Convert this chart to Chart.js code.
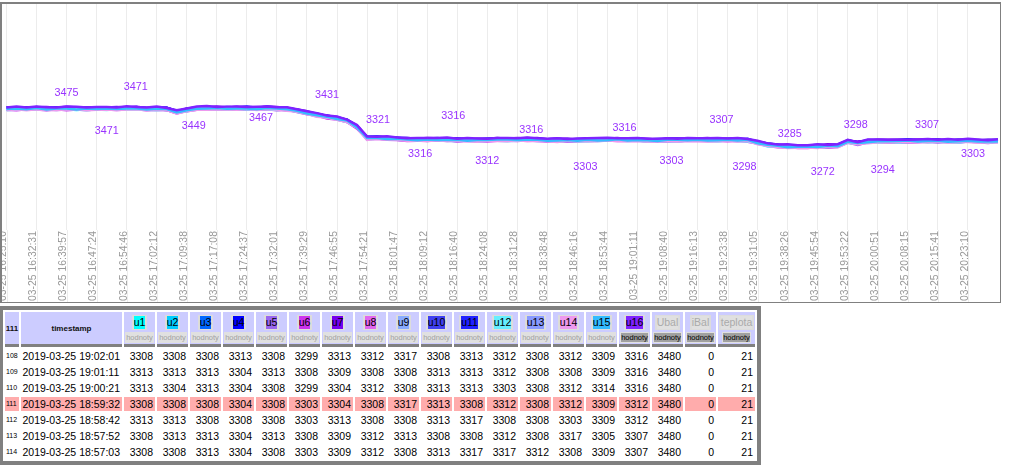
<!DOCTYPE html>
<html><head><meta charset="utf-8">
<script src="https://cdn.jsdelivr.net/npm/chart.js@4.4.1/dist/chart.umd.min.js"></script>
<style>
html,body{margin:0;padding:0;background:#fff;}
body{font-family:"Liberation Sans",Arial,sans-serif;width:1009px;height:476px;overflow:hidden;position:relative;}
#chartbox{position:absolute;left:0;top:2px;width:998px;height:298px;border-style:solid;border-color:#808080;border-width:2px 1px 1px 2px;}
#chartbox canvas{display:block;}
#tbl{position:absolute;left:-1px;top:306px;width:762px;border:4px solid #808080;border-collapse:separate;border-spacing:2px;table-layout:fixed;}
#tbl th,#tbl td{padding:0;overflow:hidden;white-space:nowrap;box-sizing:border-box;}
#tbl th{background:#ccccff;border-bottom:3px solid #808080;height:35.4px;vertical-align:top;text-align:center;font-weight:normal;}
#tbl th.n{font-weight:bold;font-size:8px;vertical-align:middle;color:#111;}
#tbl th.ts{font-weight:bold;font-size:8px;vertical-align:middle;color:#111;}
.nm{display:inline-block;border-style:solid;border-color:#dcdcdc;border-width:1px 2px;line-height:13px;font-size:10.5px;color:#000;}
.nm span{display:inline-block;}
.nm.off span{background:#e0e0e0;color:#aaa;}
.hb{display:block;width:fit-content;margin:2px auto 0;background:#e0e0e0;padding:1px 1px;font-size:7.5px;line-height:9px;color:#a0a0a0;}
.hb.on span{background:#a0a0a0;color:#000;}
#tbl td{height:14px;font-size:10.5px;line-height:14px;text-align:right;padding-right:2px;color:#000;}
#tbl td.rn{font-size:7px;text-align:left;padding:0 0 0 1px;}
#tbl td.tm{text-align:left;padding:0 0 0 1.5px;}
#tbl tr.hl td{background:#ffacac;}
</style></head>
<body>
<div id="chartbox"><canvas id="c"></canvas></div>
<table id="tbl"></table>
<script>
// ---------- chart data ----------
const tickLabels = ['03-25 16:25:10','03-25 16:32:31','03-25 16:39:57','03-25 16:47:24','03-25 16:54:46','03-25 17:02:12','03-25 17:09:38','03-25 17:17:08','03-25 17:24:37','03-25 17:32:01','03-25 17:39:29','03-25 17:46:55','03-25 17:54:21','03-25 18:01:47','03-25 18:09:12','03-25 18:16:40','03-25 18:24:08','03-25 18:31:28','03-25 18:38:48','03-25 18:46:16','03-25 18:53:44','03-25 19:01:11','03-25 19:08:40','03-25 19:16:13','03-25 19:23:38','03-25 19:31:05','03-25 19:38:26','03-25 19:45:54','03-25 19:53:22','03-25 20:00:51','03-25 20:08:15','03-25 20:15:41','03-25 20:23:10'];

const seriesNames = ['u1','u2','u3','u4','u5','u6','u7','u8','u9','u10','u11','u12','u13','u14','u15','u16'];
const seriesColors = ['#00ffff','#00ccff','#0066ff','#0000ff','#9966ee','#cc33ee','#7700ee','#e066ee','#88aaff','#3f3ff0','#2222ff','#66eeff','#8899ff','#ee99ee','#33bbff','#7f22ff'];

const u1 = [3463,3466,3462,3468,3461,3465,3465,3461,3465,3463, 3464,3462,3468,3464,3462,3466,3459,3448,3456,3467, 3464,3465,3467,3464,3469,3463,3468,3465,3459,3455, 3445,3430,3422,3415,3400,3371,3315,3314,3314,3309, 3306,3309,3303,3308,3306,3302,3306,3305,3304,3306, 3305,3309,3305,3308,3302,3304,3304,3300,3307,3303, 3306,3304,3308,3304,3303,3305,3301,3306,3305,3308, 3303,3304,3306,3303,3306,3289,3281,3276,3269,3271, 3274,3271,3273,3276,3295,3288,3298,3296,3300,3297, 3299,3302,3298,3300,3298,3296,3302,3300,3297,3299];
const u2 = [3467,3465,3469,3468,3465,3469,3465,3468,3466,3469, 3464,3467,3469,3466,3469,3465,3467,3450,3456,3469, 3472,3467,3469,3470,3467,3468,3470,3466,3466,3456, 3444,3437,3423,3417,3405,3371,3319,3320,3315,3313, 3310,3311,3307,3313,3307,3309,3307,3304,3310,3308, 3309,3308,3312,3308,3306,3308,3304,3307,3308,3309, 3306,3309,3309,3306,3310,3304,3309,3308,3305,3310, 3311,3306,3308,3309,3304,3294,3283,3277,3276,3272, 3273,3278,3274,3278,3300,3288,3302,3302,3301,3301, 3303,3304,3302,3305,3299,3303,3303,3299,3303,3301];
const u3 = [3466,3469,3469,3469,3471,3467,3472,3469,3465,3470, 3471,3468,3470,3471,3466,3469,3468,3450,3462,3469, 3470,3473,3469,3471,3471,3467,3473,3471,3466,3459, 3447,3438,3426,3421,3405,3377,3319,3318,3320,3314, 3313,3309,3313,3312,3310,3312,3306,3310,3310,3313, 3308,3312,3312,3309,3312,3306,3311,3308,3307,3310, 3313,3310,3310,3311,3307,3308,3310,3308,3311,3310, 3309,3312,3308,3310,3308,3293,3286,3282,3276,3275, 3276,3279,3277,3282,3300,3294,3302,3300,3306,3302, 3306,3302,3308,3304,3302,3306,3302,3305,3303,3306];
const u4 = [3474,3471,3471,3475,3469,3472,3474,3470,3472,3471, 3470,3475,3471,3473,3471,3469,3472,3456,3463,3473, 3474,3475,3473,3476,3472,3474,3474,3470,3472,3461, 3451,3437,3433,3421,3409,3381,3319,3325,3321,3320, 3313,3314,3314,3314,3317,3311,3314,3312,3310,3315, 3316,3314,3314,3315,3310,3311,3313,3309,3314,3311, 3312,3317,3311,3313,3312,3308,3314,3314,3312,3314, 3313,3314,3312,3315,3309,3300,3287,3281,3282,3277, 3280,3278,3284,3282,3304,3298,3302,3307,3307,3308, 3306,3307,3309,3306,3309,3305,3310,3307,3303,3308];
const u5 = [3466,3471,3465,3470,3467,3465,3471,3469,3466,3468, 3467,3470,3468,3471,3465,3469,3466,3448,3462,3468, 3471,3467,3473,3469,3469,3471,3467,3470,3466,3460, 3444,3435,3427,3416,3409,3373,3320,3320,3314,3315, 3314,3309,3309,3313,3308,3309,3309,3306,3310,3309, 3308,3314,3308,3310,3308,3304,3310,3308,3308,3308, 3309,3312,3308,3311,3306,3308,3308,3306,3311,3309, 3310,3306,3312,3308,3306,3297,3280,3281,3276,3276, 3273,3276,3278,3277,3304,3290,3303,3302,3300,3303, 3307,3302,3304,3305,3300,3303,3305,3301,3303,3302];
const u6 = [3462,3460,3464,3463,3460,3464,3460,3463,3461,3464, 3464,3461,3463,3464,3459,3462,3461,3443,3455,3462, 3464,3465,3463,3466,3462,3464,3464,3460,3462,3451, 3439,3432,3418,3412,3400,3366,3314,3315,3310,3308, 3303,3304,3304,3304,3307,3301,3304,3302,3300,3305, 3304,3303,3307,3303,3301,3303,3299,3302,3303,3304, 3306,3303,3303,3304,3300,3301,3303,3301,3304,3303, 3303,3304,3302,3305,3299,3290,3277,3271,3272,3267, 3268,3273,3269,3273,3295,3283,3297,3297,3296,3296, 3296,3297,3299,3296,3299,3295,3300,3297,3293,3298];
const u7 = [3471,3474,3474,3474,3476,3472,3477,3474,3470,3475, 3473,3476,3474,3477,3471,3475,3472,3454,3468,3474, 3475,3478,3474,3476,3476,3472,3478,3476,3471,3464, 3455,3440,3432,3425,3410,3381,3325,3324,3324,3319, 3318,3314,3318,3317,3315,3317,3311,3315,3315,3318, 3315,3319,3315,3318,3312,3314,3314,3310,3317,3313, 3314,3319,3313,3315,3314,3310,3316,3316,3314,3316, 3318,3313,3315,3316,3311,3301,3290,3284,3283,3279, 3282,3280,3286,3284,3306,3300,3304,3309,3309,3310, 3310,3311,3309,3312,3306,3310,3310,3306,3310,3308];
const u8 = [3467,3464,3464,3468,3462,3465,3467,3463,3465,3464, 3465,3463,3469,3465,3463,3467,3460,3449,3457,3468, 3465,3466,3468,3465,3470,3464,3469,3466,3460,3456, 3443,3434,3422,3417,3401,3373,3315,3314,3316,3310, 3307,3310,3304,3309,3307,3303,3307,3306,3305,3307, 3309,3307,3307,3308,3303,3304,3306,3302,3307,3304, 3307,3305,3309,3305,3304,3306,3302,3307,3306,3309, 3304,3305,3307,3304,3307,3290,3282,3277,3270,3272, 3272,3275,3273,3278,3296,3290,3298,3296,3302,3298, 3300,3303,3299,3301,3299,3297,3303,3301,3298,3300];
const u9 = [3468,3473,3467,3472,3469,3467,3473,3471,3468,3470, 3467,3470,3472,3469,3472,3468,3470,3453,3459,3472, 3473,3469,3475,3471,3471,3473,3469,3472,3468,3462, 3451,3436,3428,3421,3406,3377,3321,3320,3320,3315, 3313,3314,3310,3316,3310,3312,3310,3307,3313,3311, 3310,3316,3310,3312,3310,3306,3312,3310,3310,3310, 3309,3312,3312,3309,3313,3307,3312,3311,3308,3313, 3312,3308,3314,3310,3308,3299,3282,3283,3278,3278, 3280,3277,3279,3282,3301,3294,3304,3302,3306,3303, 3306,3307,3305,3308,3302,3306,3306,3302,3306,3304];
const u10 = [3471,3474,3470,3476,3469,3473,3473,3469,3473,3471, 3470,3475,3471,3473,3471,3469,3472,3456,3463,3473, 3477,3472,3474,3475,3472,3473,3475,3471,3471,3461, 3448,3439,3431,3420,3413,3377,3324,3324,3318,3319, 3316,3312,3316,3315,3313,3315,3309,3313,3313,3316, 3313,3317,3313,3316,3310,3312,3312,3308,3315,3311, 3312,3317,3311,3313,3312,3308,3314,3314,3312,3314, 3316,3311,3313,3314,3309,3299,3288,3282,3281,3277, 3277,3280,3282,3281,3308,3294,3307,3306,3304,3307, 3309,3305,3311,3307,3305,3309,3305,3308,3306,3309];
const u11 = [3473,3471,3475,3474,3471,3475,3471,3474,3472,3475, 3472,3475,3473,3476,3470,3474,3471,3453,3467,3473, 3473,3474,3476,3473,3478,3472,3477,3474,3468,3464, 3450,3443,3429,3423,3411,3377,3325,3326,3321,3319, 3319,3314,3314,3318,3313,3314,3314,3311,3315,3314, 3315,3314,3318,3314,3312,3314,3310,3313,3314,3315, 3314,3317,3313,3316,3311,3313,3313,3311,3316,3314, 3312,3313,3315,3312,3315,3298,3290,3285,3278,3280, 3279,3284,3280,3284,3306,3294,3308,3308,3307,3307, 3312,3307,3309,3310,3305,3308,3310,3306,3308,3307];
const u12 = [3460,3463,3463,3463,3465,3461,3466,3463,3459,3464, 3461,3466,3462,3464,3462,3460,3463,3447,3454,3464, 3465,3466,3464,3467,3463,3465,3465,3461,3463,3452, 3442,3428,3424,3412,3400,3372,3310,3316,3312,3314, 3309,3304,3304,3308,3303,3304,3304,3301,3305,3304, 3302,3306,3306,3303,3306,3300,3305,3302,3301,3304, 3304,3307,3303,3306,3301,3303,3303,3301,3306,3304, 3305,3301,3307,3303,3301,3292,3275,3276,3271,3271, 3273,3270,3272,3275,3294,3287,3297,3295,3299,3296, 3298,3301,3297,3299,3297,3295,3301,3299,3296,3298];
const u13 = [3471,3468,3468,3472,3466,3469,3471,3467,3469,3468, 3466,3469,3471,3468,3471,3467,3469,3452,3458,3471, 3472,3468,3474,3470,3470,3472,3468,3471,3467,3461, 3447,3438,3426,3421,3405,3377,3319,3318,3320,3314, 3311,3314,3308,3313,3311,3307,3311,3310,3309,3311, 3313,3311,3311,3312,3307,3308,3310,3306,3311,3308, 3308,3311,3311,3308,3312,3306,3311,3310,3307,3312, 3311,3307,3313,3309,3307,3298,3281,3282,3277,3277, 3276,3279,3277,3282,3300,3294,3302,3300,3306,3302, 3304,3307,3303,3305,3303,3301,3307,3305,3302,3304];
const u14 = [3460,3465,3459,3464,3461,3459,3465,3463,3460,3462, 3464,3461,3463,3464,3459,3462,3461,3443,3455,3462, 3462,3463,3465,3462,3467,3461,3466,3463,3457,3453, 3441,3427,3423,3411,3399,3371,3309,3315,3311,3310, 3305,3306,3302,3308,3302,3304,3302,3299,3305,3303, 3302,3308,3302,3304,3302,3298,3304,3302,3302,3302, 3306,3303,3303,3304,3300,3301,3303,3301,3304,3303, 3301,3302,3304,3301,3304,3287,3279,3274,3267,3269, 3270,3268,3274,3272,3294,3288,3292,3297,3297,3298, 3298,3299,3297,3300,3294,3298,3298,3294,3298,3296];
const u15 = [3466,3469,3465,3471,3464,3468,3468,3464,3468,3466, 3469,3466,3468,3469,3464,3467,3466,3448,3460,3467, 3468,3471,3467,3469,3469,3465,3471,3469,3464,3457, 3443,3434,3426,3415,3408,3372,3319,3319,3313,3314, 3311,3307,3311,3310,3308,3310,3304,3308,3308,3311, 3311,3309,3309,3310,3305,3306,3308,3304,3309,3306, 3307,3312,3306,3308,3307,3303,3309,3309,3307,3309, 3306,3307,3309,3306,3309,3292,3284,3279,3272,3274, 3275,3273,3279,3277,3299,3293,3297,3302,3302,3303, 3306,3301,3303,3304,3299,3302,3304,3300,3302,3301];
const u16 = [3474,3479,3473,3478,3475,3473,3479,3477,3474,3476, 3476,3474,3480,3476,3474,3478,3471,3460,3468,3479, 3481,3476,3478,3479,3476,3477,3479,3475,3475,3465, 3454,3445,3433,3428,3412,3384,3326,3325,3327,3321, 3317,3318,3318,3318,3321,3315,3318,3316,3314,3319, 3318,3317,3321,3317,3315,3317,3313,3316,3317,3318, 3320,3317,3317,3318,3314,3315,3317,3315,3318,3317, 3317,3318,3316,3319,3313,3304,3291,3285,3286,3281, 3282,3287,3283,3287,3309,3297,3311,3311,3310,3310, 3310,3311,3313,3310,3313,3309,3314,3311,3307,3312];

// value labels drawn on the chart: category position, text, and data value where the text sits
const annotIdx  = [6.0, 10.0, 12.9, 18.7, 25.4, 32.0, 37.1, 41.3, 44.6, 48.0, 52.4, 57.8, 61.7, 66.4, 71.4, 73.7, 78.2, 81.5, 84.8, 87.5, 91.9, 96.5];
const annotText = ['3475','3471','3471','3449','3467','3431','3321','3316','3316','3312','3316','3303','3316','3303','3307','3298','3285','3272','3298','3294','3307','3303'];
const annotPos  = [3548, 3356, 3577, 3377, 3420, 3535, 3412, 3237, 3428, 3203, 3360, 3169, 3370, 3203, 3411, 3169, 3339, 3147, 3382, 3155, 3382, 3237];

// ---------- table data ----------
const selectedRow = 111;
const colNames = ['u1','u2','u3','u4','u5','u6','u7','u8','u9','u10','u11','u12','u13','u14','u15','u16','Ubal','iBal','teplota'];
const colPlotted = [1,1,1,1,1,1,1,1,1,1,1,1,1,1,1,1,0,0,0];
const colValuesOn = [0,0,0,0,0,0,0,0,0,0,0,0,0,0,0,1,1,1,1];
const rowIds = [108,109,110,111,112,113,114];
const rowTimes = ['2019-03-25 19:02:01','2019-03-25 19:01:11','2019-03-25 19:00:21','2019-03-25 18:59:32','2019-03-25 18:58:42','2019-03-25 18:57:52','2019-03-25 18:57:03'];
const row108 = [3308,3308,3308,3313,3308,3299,3313,3312,3317,3308,3313,3312,3308,3312,3309,3316,3480,0,21];
const row109 = [3313,3313,3313,3304,3313,3308,3309,3308,3308,3313,3313,3312,3308,3308,3309,3316,3480,0,21];
const row110 = [3313,3304,3313,3304,3308,3299,3304,3312,3308,3313,3313,3303,3308,3312,3314,3316,3480,0,21];
const row111 = [3308,3308,3308,3304,3308,3303,3304,3308,3317,3313,3308,3312,3308,3312,3309,3312,3480,0,21];
const row112 = [3313,3313,3308,3308,3308,3303,3313,3308,3308,3313,3317,3308,3308,3303,3309,3312,3480,0,21];
const row113 = [3308,3313,3313,3304,3313,3308,3309,3312,3313,3308,3308,3312,3308,3317,3305,3307,3480,0,21];
const row114 = [3308,3308,3313,3304,3308,3303,3309,3312,3308,3313,3317,3317,3312,3308,3309,3307,3480,0,21];
const rowValues = [row108,row109,row110,row111,row112,row113,row114];

// ---------- build table ----------
(function(){
  const widths = [14,101].concat(colNames.map((n,i)=> i===18 ? 37 : 31));
  let h = '<colgroup>' + widths.map(w=>'<col style="width:'+w+'px">').join('') + '</colgroup>';
  h += '<tr><th class="n">'+selectedRow+'</th><th class="ts">timestamp</th>';
  colNames.forEach((n,i)=>{
    const bg = i<16 ? seriesColors[i] : '#e0e0e0';
    h += '<th><div class="nm'+(colPlotted[i]?'':' off')+'"><span style="background:'+bg+'">'+n+'</span></div>'+
         '<div class="hb'+(colValuesOn[i]?' on':'')+'"><span>hodnoty</span></div></th>';
  });
  h += '</tr>';
  rowIds.forEach((id,r)=>{
    h += '<tr'+(id===selectedRow?' class="hl"':'')+'><td class="rn">'+id+'</td><td class="tm">'+rowTimes[r]+'</td>';
    rowValues[r].forEach(v=>{ h += '<td>'+v+'</td>'; });
    h += '</tr>';
  });
  document.getElementById('tbl').innerHTML = h;
})();

// ---------- build chart ----------
const cats = [];
tickLabels.forEach(t=>{ cats.push(t,'',''); });
cats.push('');
const allSeries = [u1,u2,u3,u4,u5,u6,u7,u8,u9,u10,u11,u12,u13,u14,u15,u16];
const gridColor = 'rgba(0,0,0,0.075)';

const gridExtend = {
  id:'gridExtend',
  beforeDraw(chart){
    const {ctx, chartArea, scales:{x}} = chart;
    ctx.save();
    ctx.strokeStyle = gridColor; ctx.lineWidth = 1;
    x.ticks.forEach((tk,i)=>{
      if(!cats[i]) return;
      const px = Math.round(x.getPixelForTick(i)) + 0.5;
      ctx.beginPath(); ctx.moveTo(px, chartArea.bottom); ctx.lineTo(px, chart.height); ctx.stroke();
    });
    ctx.restore();
  }
};
const annot = {
  id:'annot',
  afterDatasetsDraw(chart){
    const {ctx, scales:{x,y}} = chart;
    ctx.save();
    ctx.fillStyle = '#9933ff';
    ctx.font = '10.8px "Liberation Sans", Arial, sans-serif';
    ctx.textAlign = 'center'; ctx.textBaseline = 'middle';
    annotText.forEach((t,i)=>{ ctx.fillText(t, x.getPixelForValue(annotIdx[i]), y.getPixelForValue(annotPos[i])); });
    ctx.restore();
  }
};

new Chart(document.getElementById('c'), {
  type:'line',
  data:{
    labels: cats,
    datasets: allSeries.map((d,k)=>({label:seriesNames[k], data:d, borderColor:seriesColors[k], backgroundColor:seriesColors[k], borderWidth:2.5, pointRadius:0, fill:false, tension:0, order:16-k}))
  },
  options:{
    responsive:true, maintainAspectRatio:false, animation:false, devicePixelRatio:1,
    layout:{padding:{left:4.5,right:2,top:0,bottom:0}},
    plugins:{legend:{display:false}, tooltip:{enabled:false}},
    events:[],
    scales:{
      x:{
        offset:false,
        grid:{color:(c)=> cats[c.index] ? gridColor : 'rgba(0,0,0,0)', drawTicks:false},
        border:{display:false},
        ticks:{autoSkip:false, maxRotation:90, minRotation:90, padding:1, labelOffset:-3, color:'#999',
               font:{size:10.4, family:'"Liberation Sans", Arial, sans-serif'}},
        afterFit(s){ s.paddingLeft = 0; s.paddingRight = 0; }
      },
      y:{display:false, min:2850, max:4000}
    }
  },
  plugins:[gridExtend, annot]
});
</script>
</body></html>
